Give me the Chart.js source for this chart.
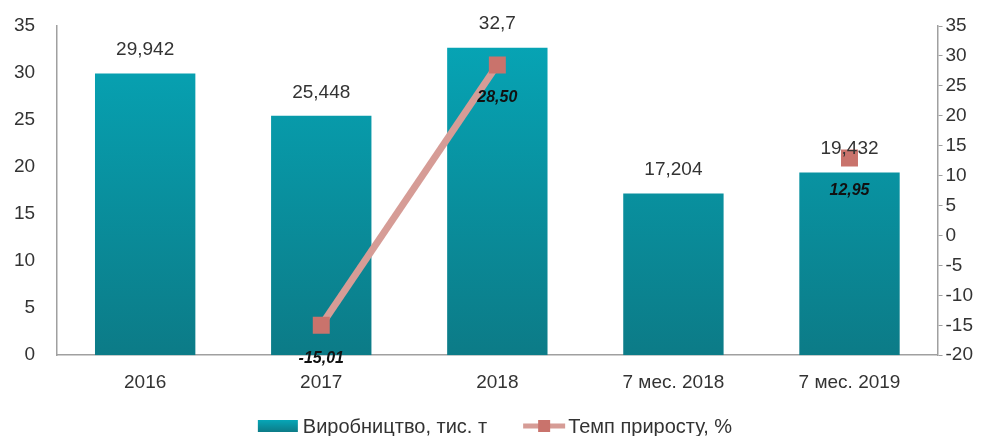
<!DOCTYPE html>
<html>
<head>
<meta charset="utf-8">
<script src="https://cdn.jsdelivr.net/npm/chart.js@4/dist/chart.umd.min.js"></script>
<style>
  html, body { margin: 0; padding: 0; background: #fff; }
  #wrap { width: 990px; height: 436px; }
</style>
</head>
<body>
<div id="wrap"><canvas id="chart"></canvas></div>
<script>
const CATEGORIES = ['2016', '2017', '2018', '7 мес. 2018', '7 мес. 2019'];
const PRODUCTION = [29.942, 25.448, 32.7, 17.204, 19.432];
const GROWTH = [null, -15.01, 28.50, null, 12.95];
const PROD_LABELS = ['29,942', '25,448', '32,7', '17,204', '19,432'];
const GROWTH_LABELS = [null, '-15,01', '28,50', null, '12,95'];

const FONT = '"Liberation Sans", Arial, sans-serif';
const LINE_COLOR = '#d69c96';
const MARKER_COLOR = '#c9736c';

function barGradient(ctx) {
    const area = ctx.chart.chartArea;
    if (!area) return '#0a93a2';
    const g = ctx.chart.ctx.createLinearGradient(0, area.top, 0, area.bottom);
    g.addColorStop(0, '#06a6b7');
    g.addColorStop(1, '#0c7b87');
    return g;
}

// value labels above bars and under line points
const valueLabels = {
    id: 'valueLabels',
    afterDatasetsDraw(chart) {
        const c = chart.ctx;
        c.save();
        c.textAlign = 'center';
        const bars = chart.getDatasetMeta(0).data;
        c.fillStyle = '#333';
        c.font = '19px ' + FONT;
        c.textBaseline = 'bottom';
        bars.forEach((b, i) => c.fillText(PROD_LABELS[i], b.x, b.y - 14));
        const pts = chart.getDatasetMeta(1).data;
        c.fillStyle = '#111';
        c.font = 'italic bold 16px ' + FONT;
        c.textBaseline = 'top';
        pts.forEach((p, i) => { if (GROWTH_LABELS[i]) c.fillText(GROWTH_LABELS[i], p.x, p.y + 25); });
        c.restore();
    }
};

// legend drawn by hand: bar box + line with square marker
const customLegend = {
    id: 'customLegend',
    afterDraw(chart) {
        const c = chart.ctx;
        const ds = chart.data.datasets;
        c.save();
        c.font = '20px ' + FONT;
        c.textBaseline = 'middle';
        c.fillStyle = '#333';
        const y = 426, sym = 42, gap = 3, between = 36;
        const w1 = c.measureText(ds[0].label).width, w2 = c.measureText(ds[1].label).width;
        const total = sym + gap + w1 + between + sym + gap + w2;
        let x = chart.width / 2 - total / 2;
        const g = c.createLinearGradient(0, y - 6, 0, y + 6);
        g.addColorStop(0, '#06a6b7'); g.addColorStop(1, '#0c7b87');
        c.fillStyle = g;
        c.fillRect(x, y - 6, sym - 2, 12);
        x += sym + gap;
        c.fillStyle = '#333';
        c.fillText(ds[0].label, x, y + 1);
        x += w1 + between;
        c.strokeStyle = LINE_COLOR;
        c.lineWidth = 5;
        c.beginPath(); c.moveTo(x, y); c.lineTo(x + sym, y); c.stroke();
        c.fillStyle = MARKER_COLOR;
        c.fillRect(x + sym / 2 - 6, y - 6, 12, 12);
        x += sym + gap;
        c.fillStyle = '#333';
        c.fillText(ds[1].label, x, y + 1);
        c.restore();
    }
};

new Chart(document.getElementById('chart'), {
    type: 'bar',
    data: {
        labels: CATEGORIES,
        datasets: [
            { type: 'bar', label: 'Виробництво, тис. т', data: PRODUCTION, yAxisID: 'y',
              backgroundColor: barGradient, categoryPercentage: 0.57, barPercentage: 1, order: 2 },
            { type: 'line', label: 'Темп приросту, %', data: GROWTH, yAxisID: 'y1',
              borderColor: LINE_COLOR, backgroundColor: MARKER_COLOR, borderWidth: 7,
              pointStyle: 'rect', pointRadius: 12, pointBorderWidth: 0, pointBackgroundColor: MARKER_COLOR,
              spanGaps: false, order: 1 }
        ]
    },
    options: {
        responsive: true,
        maintainAspectRatio: false,
        animation: false,
        layout: { padding: { top: 26, left: 0, right: 14, bottom: 34 } },
        plugins: {
            tooltip: { enabled: false },
            legend: { display: false }
        },
        scales: {
            x: {
                grid: { display: false },
                border: { color: '#a0a0a0', width: 1.5 },
                ticks: { color: '#333', font: { family: FONT, size: 19 }, padding: 8 }
            },
            y: {
                position: 'left', min: 0, max: 35,
                grid: { display: false },
                border: { color: '#a0a0a0', width: 1.5 },
                ticks: { stepSize: 5, color: '#333', font: { family: FONT, size: 19 }, padding: 14 }
            },
            y1: {
                position: 'right', min: -20, max: 35,
                grid: { drawOnChartArea: false, drawTicks: true, tickLength: 5, color: '#a0a0a0' },
                border: { color: '#a0a0a0', width: 1.5 },
                ticks: { stepSize: 5, color: '#333', font: { family: FONT, size: 19 }, padding: 3 }
            }
        }
    },
    plugins: [valueLabels, customLegend]
});
</script>
</body>
</html>
